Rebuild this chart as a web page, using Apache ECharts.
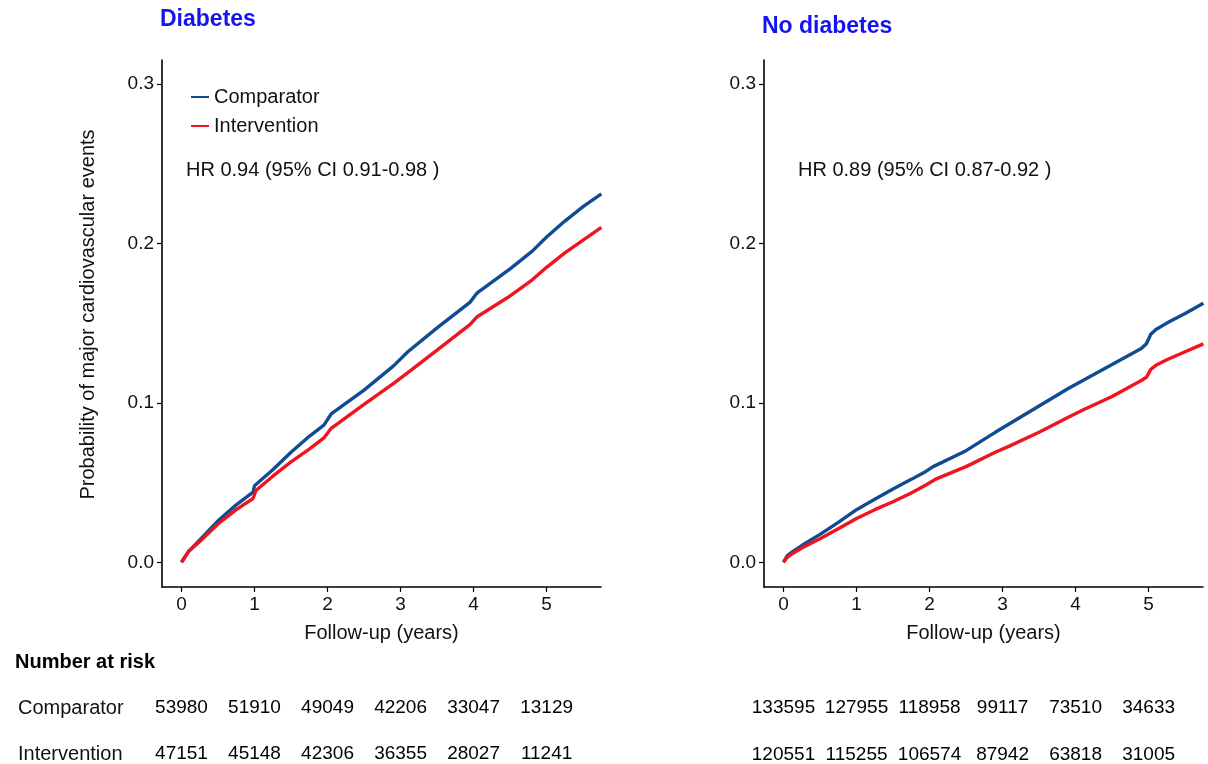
<!DOCTYPE html>
<html>
<head>
<meta charset="utf-8">
<script src="https://cdn.jsdelivr.net/npm/echarts@6/dist/echarts.min.js"></script>
<style>html,body{margin:0;padding:0;background:#fff}#c{width:1208px;height:764px}</style>
</head>
<body>
<div id="c"></div>
<script>
// ---- data ----
const panelTitles = ['Diabetes', 'No diabetes'];
const hrTexts = ['HR 0.94 (95% CI 0.91-0.98 )', 'HR 0.89 (95% CI 0.87-0.92 )'];
const seriesNames = ['Comparator', 'Intervention'];
const yTicks = [0, 0.1, 0.2, 0.3];
const xTicks = [0, 1, 2, 3, 4, 5];
const riskYears = [0, 1, 2, 3, 4, 5];

// Diabetes: [years, probability]
const diabComparator = [[0,0],[0.1,0.007],[0.25,0.014],[0.5,0.026],[0.75,0.036],[0.98,0.044],[1.0,0.048],[1.25,0.058],[1.5,0.069],[1.75,0.079],[1.95,0.086],[2.05,0.093],[2.5,0.108],[2.9,0.123],[3.1,0.132],[3.5,0.147],[3.95,0.163],[4.05,0.169],[4.5,0.184],[4.8,0.195],[5.0,0.204],[5.25,0.214],[5.5,0.223],[5.75,0.231]];
const diabIntervention = [[0,0],[0.1,0.007],[0.25,0.013],[0.5,0.024],[0.75,0.033],[0.98,0.040],[1.02,0.045],[1.25,0.054],[1.5,0.063],[1.75,0.071],[1.95,0.078],[2.05,0.084],[2.5,0.099],[2.9,0.112],[3.1,0.119],[3.5,0.133],[3.95,0.149],[4.05,0.154],[4.5,0.167],[4.8,0.177],[5.0,0.185],[5.25,0.194],[5.5,0.202],[5.75,0.210]];
// No diabetes
const noDiabComparator = [[0,0],[0.05,0.004],[0.12,0.0065],[0.25,0.0105],[0.5,0.0175],[0.75,0.025],[1.0,0.033],[1.25,0.0395],[1.5,0.046],[1.75,0.052],[1.95,0.057],[2.05,0.060],[2.5,0.070],[2.9,0.0815],[3.1,0.087],[3.5,0.098],[3.9,0.109],[4.1,0.114],[4.5,0.124],[4.9,0.134],[4.97,0.137],[5.03,0.143],[5.1,0.146],[5.25,0.150],[5.5,0.156],[5.75,0.1625]];
const noDiabIntervention = [[0,0],[0.05,0.003],[0.12,0.0054],[0.25,0.009],[0.5,0.0148],[0.75,0.021],[1.0,0.0275],[1.25,0.033],[1.5,0.038],[1.75,0.0435],[1.95,0.0485],[2.1,0.0525],[2.5,0.060],[2.9,0.069],[3.1,0.073],[3.5,0.0815],[3.9,0.091],[4.1,0.0955],[4.5,0.104],[4.9,0.114],[4.97,0.116],[5.03,0.121],[5.1,0.1235],[5.25,0.127],[5.5,0.132],[5.75,0.137]];

// Number at risk
const riskDiabComparator = [53980, 51910, 49049, 42206, 33047, 13129];
const riskDiabIntervention = [47151, 45148, 42306, 36355, 28027, 11241];
const riskNoDiabComparator = [133595, 127955, 118958, 99117, 73510, 34633];
const riskNoDiabIntervention = [120551, 115255, 106574, 87942, 63818, 31005];

// ---- styles ----
const FONT = 'Liberation Sans, Arial, sans-serif';
const FS = 20;
const FS_TICK = 19;
const TXT = '#111';
const BLUE = '#0f4c91';
const RED = '#f0141e';
const TITLE_BLUE = '#1414f0';
const X_MIN = -0.267, X_MAX = 5.745, Y_MIN = -0.0155, Y_MAX = 0.315;

function mainX(gi) {
  return {
    type: 'value', gridIndex: gi, min: X_MIN, max: X_MAX,
    name: 'Follow-up (years)', nameLocation: 'middle', nameGap: 36,
    nameTextStyle: {fontFamily: FONT, fontSize: FS, color: TXT},
    axisLine: {show: true, onZero: false, lineStyle: {color: '#000', width: 1.6}},
    axisTick: {show: true, length: 5, customValues: xTicks, lineStyle: {color: '#000', width: 1.2}},
    axisLabel: {customValues: xTicks, fontFamily: FONT, fontSize: FS_TICK, color: TXT, margin: 8},
    splitLine: {show: false}
  };
}
function mainY(gi, withName) {
  return {
    type: 'value', gridIndex: gi, min: Y_MIN, max: Y_MAX,
    name: withName ? 'Probability of major cardiovascular events' : '',
    nameLocation: 'middle', nameGap: 64, nameRotate: 90,
    nameTextStyle: {fontFamily: FONT, fontSize: FS, color: TXT, padding: [0, 0, 0, 18]},
    axisLine: {show: true, onZero: false, lineStyle: {color: '#000', width: 1.6}},
    axisTick: {show: true, length: 5, customValues: yTicks, lineStyle: {color: '#000', width: 1.2}},
    axisLabel: {customValues: yTicks, formatter: v => v.toFixed(1), fontFamily: FONT, fontSize: FS_TICK, color: TXT, margin: 8},
    splitLine: {show: false}
  };
}
function riskX(gi) {
  return {type: 'value', gridIndex: gi, min: X_MIN, max: X_MAX, show: false};
}
function riskY(gi, showLabels) {
  return {
    type: 'category', gridIndex: gi, data: seriesNames, inverse: true, boundaryGap: false,
    axisLine: {show: false}, axisTick: {show: false},
    axisLabel: {show: showLabels, align: 'left', margin: 144, fontFamily: FONT, fontSize: FS, color: TXT}
  };
}
function line(name, xi, data, color) {
  return {
    type: 'line', name, xAxisIndex: xi, yAxisIndex: xi, data,
    showSymbol: false, symbol: 'none', smooth: false,
    lineStyle: {color, width: 3.4}, itemStyle: {color}, z: 3
  };
}
function risk(xi, row, counts) {
  return {
    type: 'line', xAxisIndex: xi, yAxisIndex: xi, silent: true,
    symbol: 'circle', symbolSize: 0, showSymbol: true,
    lineStyle: {width: 0, opacity: 0},
    itemStyle: {color: '#000', opacity: 1},
    data: riskYears.map((y, i) => [y, row, counts[i]]),
    label: {show: true, position: 'inside', formatter: p => String(p.value[2]),
      fontFamily: FONT, fontSize: FS_TICK, color: '#000', textBorderWidth: 0}
  };
}

const option = {
  backgroundColor: '#fff',
  animation: false,
  title: [
    {text: panelTitles[0], left: 160, top: 8, padding: 0, textStyle: {fontFamily: FONT, fontSize: 23, fontWeight: 'bold', color: TITLE_BLUE}},
    {text: panelTitles[1], left: 762, top: 15, padding: 0, textStyle: {fontFamily: FONT, fontSize: 23, fontWeight: 'bold', color: TITLE_BLUE}},
    {text: hrTexts[0], left: 186, top: 160, padding: 0, textStyle: {fontFamily: FONT, fontSize: FS, fontWeight: 'normal', color: TXT}},
    {text: hrTexts[1], left: 798, top: 160, padding: 0, textStyle: {fontFamily: FONT, fontSize: FS, fontWeight: 'normal', color: TXT}},
    {text: 'Number at risk', left: 15, top: 652, padding: 0, textStyle: {fontFamily: FONT, fontSize: FS, fontWeight: 'bold', color: '#000'}}
  ],
  legend: {
    data: seriesNames, orient: 'vertical', left: 186, top: 82, itemGap: 9,
    icon: 'rect', itemWidth: 18, itemHeight: 2,
    textStyle: {fontFamily: FONT, fontSize: FS, color: TXT}
  },
  grid: [
    {left: 162, right: 607, top: 60, bottom: 177},
    {left: 764, right: 5, top: 60, bottom: 177},
    {left: 162, right: 607, top: 708, bottom: 9},
    {left: 764, right: 5, top: 708, bottom: 9}
  ],
  xAxis: [mainX(0), mainX(1), riskX(2), riskX(3)],
  yAxis: [mainY(0, true), mainY(1, false), riskY(2, true), riskY(3, false)],
  series: [
    line(seriesNames[0], 0, diabComparator, BLUE),
    line(seriesNames[1], 0, diabIntervention, RED),
    line(seriesNames[0], 1, noDiabComparator, BLUE),
    line(seriesNames[1], 1, noDiabIntervention, RED),
    risk(2, seriesNames[0], riskDiabComparator),
    risk(2, seriesNames[1], riskDiabIntervention),
    risk(3, seriesNames[0], riskNoDiabComparator),
    risk(3, seriesNames[1], riskNoDiabIntervention)
  ]
};
const chart = echarts.init(document.getElementById('c'), null, {renderer: 'canvas'});
chart.setOption(option);
</script>
</body>
</html>
